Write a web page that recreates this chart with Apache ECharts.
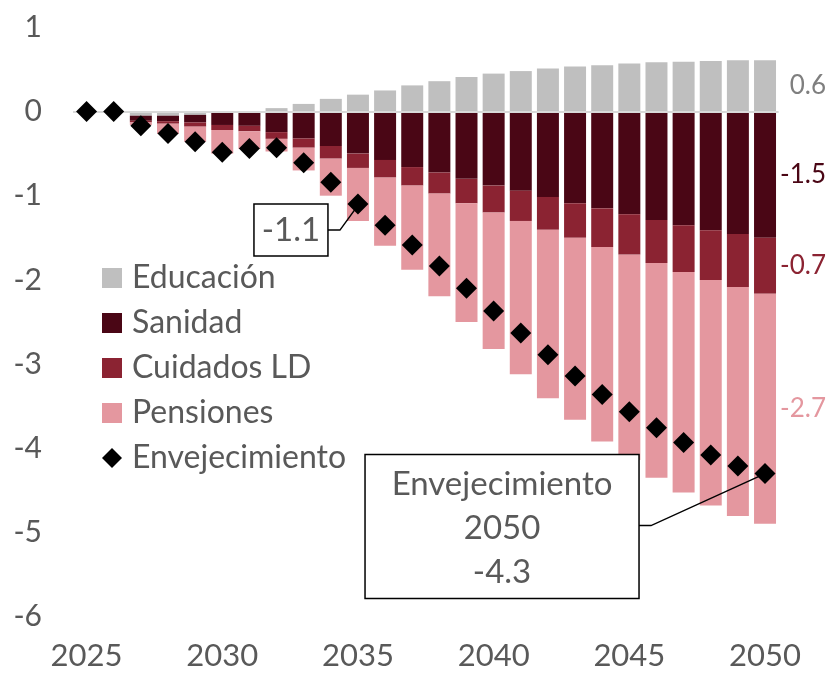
<!DOCTYPE html>
<html>
<head>
<meta charset="utf-8">
<script src="https://cdn.jsdelivr.net/npm/echarts@6/dist/echarts.min.js"></script>
<style>
  html, body { margin: 0; padding: 0; background: #fff; }
  #main { width: 833px; height: 676px; }
</style>
</head>
<body>
<div id="main"></div>
<script>
// datos (puntos del PIB)
const years = ['2025','2026','2027','2028','2029','2030','2031','2032','2033','2034','2035','2036','2037',
  '2038','2039','2040','2041','2042','2043','2044','2045','2046','2047','2048','2049','2050'];
const educacion = [0, 0, -0.05, -0.05, -0.04, -0.01, 0, 0.04, 0.09, 0.15, 0.2, 0.25, 0.31,
  0.36, 0.41, 0.45, 0.48, 0.51, 0.535, 0.55, 0.57, 0.585, 0.59, 0.6, 0.61, 0.61];
const sanidad = [0, 0, -0.06, -0.065, -0.09, -0.15, -0.17, -0.245, -0.32, -0.41, -0.5, -0.575, -0.66,
  -0.725, -0.8, -0.88, -0.94, -1.015, -1.09, -1.15, -1.22, -1.29, -1.35, -1.41, -1.455, -1.5];
const cuidados = [0, 0, -0.02, -0.03, -0.05, -0.06, -0.065, -0.08, -0.11, -0.15, -0.17, -0.21, -0.22,
  -0.25, -0.29, -0.32, -0.36, -0.39, -0.41, -0.46, -0.48, -0.51, -0.555, -0.59, -0.63, -0.665];
const pensiones = [0, 0, -0.03, -0.12, -0.18, -0.28, -0.21, -0.15, -0.27, -0.44, -0.63, -0.81, -1.0,
  -1.22, -1.41, -1.62, -1.82, -2.0, -2.16, -2.31, -2.44, -2.55, -2.62, -2.68, -2.72, -2.73];
const envejecimiento = [0, 0, -0.17, -0.26, -0.36, -0.485, -0.44, -0.43, -0.61, -0.84, -1.1, -1.35, -1.585,
  -1.835, -2.1, -2.37, -2.63, -2.89, -3.14, -3.36, -3.565, -3.755, -3.93, -4.08, -4.21, -4.3];
const yTicks = [1, 0, -1, -2, -3, -4, -5, -6];

const FONT = 'Lato, "Noto Sans", sans-serif';
const TXT = '#595959';
const last = years.length - 1;

const endLabel = (color) => ({
  show: true,
  position: [72, '50%'],
  align: 'right',
  verticalAlign: 'middle',
  color: color,
  fontSize: 26,
  fontFamily: FONT,
  formatter: p => p.dataIndex === last ? p.value.toFixed(1) : ''
});

const barSeries = (name, data, color, labelColor) => ({
  name: name,
  type: 'bar',
  stack: 'total',
  barWidth: '81%',
  data: data,
  itemStyle: { color: color },
  label: endLabel(labelColor),
  emphasis: { disabled: true }
});

const chart = echarts.init(document.getElementById('main'));

const option = {
  animation: false,
  grid: { left: 73, right: 54.4, top: 27.3, bottom: 59.3 },
  legend: {
    orient: 'vertical',
    left: 97,
    top: 257,
    itemWidth: 20,
    itemHeight: 20,
    itemGap: 13,
    textStyle: { color: TXT, fontSize: 32, fontFamily: FONT, lineHeight: 32, padding: [0, 0, 0, 5] },
    data: [
      { name: 'Educación', icon: 'rect' },
      { name: 'Sanidad', icon: 'rect' },
      { name: 'Cuidados LD', icon: 'rect' },
      { name: 'Pensiones', icon: 'rect' },
      { name: 'Envejecimiento', icon: 'diamond' }
    ]
  },
  xAxis: {
    type: 'category',
    data: years,
    axisLine: { show: false },
    axisTick: { show: false },
    axisLabel: { interval: 4, color: TXT, fontSize: 31, fontFamily: FONT, margin: 24 }
  },
  yAxis: {
    type: 'value',
    min: yTicks[yTicks.length - 1],
    max: yTicks[0],
    interval: 1,
    splitLine: { show: false },
    axisLine: { show: false },
    axisTick: { show: false },
    axisLabel: { color: TXT, fontSize: 30, fontFamily: FONT, margin: 31 }
  },
  series: [
    Object.assign(barSeries('Educación', educacion, '#bfbfbf', '#7f7f7f'), {
      markLine: {
        silent: true,
        symbol: ['none', 'none'],
        label: { show: false },
        lineStyle: { color: '#d9d9d9', width: 2, type: 'solid' },
        data: [{ yAxis: 0 }]
      }
    }),
    barSeries('Sanidad', sanidad, '#4a0615', '#4a0615'),
    barSeries('Cuidados LD', cuidados, '#8b2332', '#8b2332'),
    barSeries('Pensiones', pensiones, '#e4979f', '#e4979f'),
    {
      name: 'Envejecimiento',
      type: 'scatter',
      symbol: 'diamond',
      symbolSize: 21,
      data: envejecimiento,
      itemStyle: { color: '#000', opacity: 1 },
      z: 5
    }
  ]
};

chart.setOption(option);

// anotaciones con recuadro, colocadas respecto al punto del año
const i35 = years.indexOf('2035');
const p35 = chart.convertToPixel({ seriesIndex: 4 }, [i35, envejecimiento[i35]]);
const p50 = chart.convertToPixel({ seriesIndex: 4 }, [last, envejecimiento[last]]);

chart.setOption({
  graphic: [
    {
      type: 'polyline', z: 10,
      shape: { points: [[p35[0] - 30, p35[1] + 26], [p35[0] - 18, p35[1] + 26], [p35[0] - 2, p35[1] + 4]] },
      style: { stroke: '#000', lineWidth: 1.5, fill: null }
    },
    {
      type: 'rect', z: 10,
      shape: { x: p35[0] - 104, y: p35[1], width: 74, height: 52 },
      style: { fill: '#fff', stroke: '#000', lineWidth: 1.5 }
    },
    {
      type: 'text', z: 11,
      x: p35[0] - 67, y: p35[1] + 26,
      style: {
        text: envejecimiento[i35].toFixed(1),
        fill: TXT, font: '33px ' + FONT,
        align: 'center', verticalAlign: 'middle'
      }
    },
    {
      type: 'polyline', z: 10,
      shape: { points: [[p50[0] - 126, p50[1] + 52], [p50[0] - 114, p50[1] + 52], [p50[0], p50[1]]] },
      style: { stroke: '#000', lineWidth: 1.5, fill: null }
    },
    {
      type: 'rect', z: 10,
      shape: { x: p50[0] - 400, y: p50[1] - 19, width: 274, height: 144 },
      style: { fill: '#fff', stroke: '#000', lineWidth: 1.5 }
    },
    {
      type: 'text', z: 11,
      x: p50[0] - 263, y: p50[1] + 55,
      style: {
        text: 'Envejecimiento\n' + years[last] + '\n' + envejecimiento[last].toFixed(1),
        fill: TXT, font: '33px ' + FONT, lineHeight: 44,
        align: 'center', verticalAlign: 'middle'
      }
    }
  ]
});

window.addEventListener('resize', () => {
  chart.resize();
});
</script>
</body>
</html>
